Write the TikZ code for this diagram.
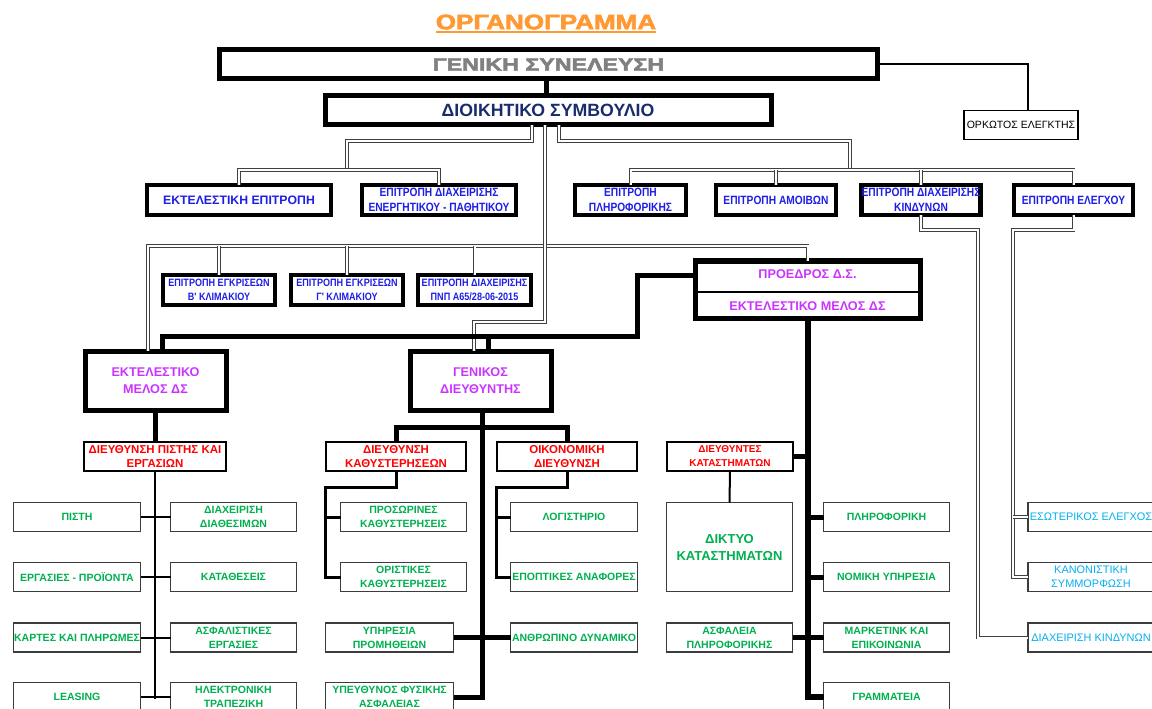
\documentclass[tikz,border=0pt]{standalone}
\usepackage{fontspec}
\usepackage{graphicx}
\setmainfont{Liberation Sans}
\newfontfamily\condf{Liberation Sans}[FakeStretch=0.85]
\newfontfamily\heavyf{Liberation Sans Bold}[FakeBold=2.5]
\usetikzlibrary{calc}
\definecolor{corange}{RGB}{255,153,51}
\definecolor{cgrey}{RGB}{128,128,128}
\definecolor{cnavy}{RGB}{25,45,110}
\definecolor{cblue}{RGB}{30,30,230}
\definecolor{cmag}{RGB}{204,51,255}
\definecolor{cred}{RGB}{255,0,0}
\definecolor{cgreen}{RGB}{0,176,80}
\definecolor{clblue}{RGB}{0,176,240}
\definecolor{cedge}{RGB}{60,60,60}
\tikzset{
  every node/.style={inner sep=0pt, outer sep=0pt, align=center},
  sz/.style 2 args={minimum width=#1*0.75pt, minimum height=#2*0.75pt},
  bigbox/.style={draw, line width=3.75pt},
  combox/.style={draw, line width=3.4pt, text=cblue, font=\condf\fontsize{9}{11.5}\selectfont\bfseries},
  apprbox/.style={draw, line width=3.4pt, text=cblue, font=\condf\fontsize{8}{10.5}\selectfont\bfseries},
  magtext/.style={text=cmag, font=\fontsize{9.5}{12.75}\selectfont\bfseries},
  redbox/.style={draw, line width=1.9pt, text=cred, font=\fontsize{8.6}{10.5}\selectfont\bfseries},
  grbox/.style={draw=cedge, line width=1.1pt, text=cgreen, font=\fontsize{7.9}{10.5}\selectfont\bfseries},
  lbbox/.style={draw=cedge, line width=1.1pt, text=clblue, font=\fontsize{8.2}{10.5}\selectfont},
  dbl/.style={draw=black!75, line width=0.7pt, double=white, double distance=1.5pt},
  thk/.style={line width=3.75pt},
  thkk/.style={line width=4.5pt},
  med/.style={line width=2.25pt},
  thn/.style={line width=1.5pt},
}
\begin{document}
\begin{tikzpicture}[x=0.75pt,y=-0.75pt]
\useasboundingbox (0,0) rectangle (1152,709);
\clip (0,0) rectangle (1152,709);
\fill[white] (0,0) rectangle (1152,709);

% title
\node[text=corange, font=\heavyf\fontsize{15.75}{18}\selectfont] (title) at (546,22) {\scalebox{1.24}[1]{ΟΡΓΑΝΟΓΡΑΜΜΑ}};
\draw[corange, line width=1.6pt] ($(title.south west)+(0,3)$) -- ($(title.south east)+(0,3)$);

% top boxes
\node[bigbox, sz={658}{29}, text=cgrey, font=\heavyf\fontsize{13.6}{15}\selectfont] (gs) at (548.5,64.5) {\scalebox{1.28}[1]{ΓΕΝΙΚΗ ΣΥΝΕΛΕΥΣΗ}};
\node[bigbox, sz={446}{29}, text=cnavy, font=\fontsize{13.3}{15}\selectfont\bfseries] (ds) at (548,110.5) {ΔΙΟΙΚΗΤΙΚΟ ΣΥΜΒΟΥΛΙΟ};
\node[draw, line width=1.4pt, sz={114}{29}, font=\fontsize{7.9}{9.5}\selectfont] (ork) at (1021,125) {ΟΡΚΩΤΟΣ ΕΛΕΓΚΤΗΣ};

% row 1 committees
\node[draw, line width=3.4pt, sz={184}{30}, text=cblue, font=\fontsize{9.2}{11}\selectfont\bfseries] (ekep) at (239,200) {ΕΚΤΕΛΕΣΤΙΚΗ ΕΠΙΤΡΟΠΗ};
\node[combox, sz={154}{30}] (enpa) at (439,200) {ΕΠΙΤΡΟΠΗ ΔΙΑΧΕΙΡΙΣΗΣ\\ΕΝΕΡΓΗΤΙΚΟΥ - ΠΑΘΗΤΙΚΟΥ};
\node[combox, sz={111}{30}] (plir) at (630.5,200) {ΕΠΙΤΡΟΠΗ\\ΠΛΗΡΟΦΟΡΙΚΗΣ};
\node[combox, sz={120}{30}] (amoib) at (776,200) {ΕΠΙΤΡΟΠΗ ΑΜΟΙΒΩΝ};
\node[combox, sz={114}{30}] (kind) at (921,200) {ΕΠΙΤΡΟΠΗ ΔΙΑΧΕΙΡΙΣΗΣ\\ΚΙΝΔΥΝΩΝ};
\node[combox, sz={119}{30}] (eleg) at (1073.5,200) {ΕΠΙΤΡΟΠΗ ΕΛΕΓΧΟΥ};

% row 2 committees
\node[apprbox, sz={112}{30}] (eb) at (219,290) {ΕΠΙΤΡΟΠΗ ΕΓΚΡΙΣΕΩΝ\\Β' ΚΛΙΜΑΚΙΟΥ};
\node[apprbox, sz={112}{30}] (eg) at (347,290) {ΕΠΙΤΡΟΠΗ ΕΓΚΡΙΣΕΩΝ\\Γ' ΚΛΙΜΑΚΙΟΥ};
\node[apprbox, sz={113}{30}] (pnp) at (474.5,290) {ΕΠΙΤΡΟΠΗ ΔΙΑΧΕΙΡΙΣΗΣ\\ΠΝΠ Α65/28-06-2015};

% chairman
\node[bigbox, sz={225}{57}] (pro) at (807.5,289.5) {};
\draw[line width=2.2pt] (pro.west |- 0,292) -- (pro.east |- 0,292);
\node[magtext] (proa) at (807.5,274.5) {ΠΡΟΕΔΡΟΣ Δ.Σ.};
\node[magtext] (prob) at (807.5,306.5) {ΕΚΤΕΛΕΣΤΙΚΟ ΜΕΛΟΣ ΔΣ};

% executive member, general manager
\node[bigbox, sz={141}{59}, magtext] (ekm) at (155.5,380.5) {ΕΚΤΕΛΕΣΤΙΚΟ\\ΜΕΛΟΣ ΔΣ};
\node[bigbox, sz={141}{59}, magtext] (gd) at (480.5,380.5) {ΓΕΝΙΚΟΣ\\ΔΙΕΥΘΥΝΤΗΣ};

% red directorates
\node[redbox, sz={142}{29}] (pist) at (155,456.5) {ΔΙΕΥΘΥΝΣΗ ΠΙΣΤΗΣ ΚΑΙ\\ΕΡΓΑΣΙΩΝ};
\node[redbox, sz={140}{29}] (kath) at (396,456.5) {ΔΙΕΥΘΥΝΣΗ\\ΚΑΘΥΣΤΕΡΗΣΕΩΝ};
\node[redbox, sz={140}{29}] (oik) at (567,456.5) {ΟΙΚΟΝΟΜΙΚΗ\\ΔΙΕΥΘΥΝΣΗ};
\node[redbox, sz={126}{29}, font=\fontsize{7.5}{10.5}\selectfont\bfseries] (diek) at (730,456.5) {ΔΙΕΥΘΥΝΤΕΣ\\ΚΑΤΑΣΤΗΜΑΤΩΝ};

% green units, left
\node[grbox, sz={127}{29}] (pisti) at (77,517) {ΠΙΣΤΗ};
\node[grbox, sz={127}{29}] (ergas) at (77,577) {ΕΡΓΑΣΙΕΣ - ΠΡΟΪΟΝΤΑ};
\node[grbox, sz={127}{29}] (kartes) at (77,637.5) {ΚΑΡΤΕΣ ΚΑΙ ΠΛΗΡΩΜΕΣ};
\node[grbox, sz={127}{29}] (leasing) at (77,697) {LEASING};
\node[grbox, sz={126}{29}] (diax) at (233.5,517) {ΔΙΑΧΕΙΡΙΣΗ\\ΔΙΑΘΕΣΙΜΩΝ};
\node[grbox, sz={126}{29}] (katath) at (233.5,577) {ΚΑΤΑΘΕΣΕΙΣ};
\node[grbox, sz={126}{29}] (asfal) at (233.5,637.5) {ΑΣΦΑΛΙΣΤΙΚΕΣ\\ΕΡΓΑΣΙΕΣ};
\node[grbox, sz={126}{29}] (ilektr) at (233.5,697) {ΗΛΕΚΤΡΟΝΙΚΗ\\ΤΡΑΠΕΖΙΚΗ};

% green units, middle
\node[grbox, sz={126}{29}] (prosor) at (403.5,517) {ΠΡΟΣΩΡΙΝΕΣ\\ΚΑΘΥΣΤΕΡΗΣΕΙΣ};
\node[grbox, sz={126}{29}] (orist) at (403.5,577) {ΟΡΙΣΤΙΚΕΣ\\ΚΑΘΥΣΤΕΡΗΣΕΙΣ};
\node[grbox, sz={128}{29}] (ypir) at (389.5,637.5) {ΥΠΗΡΕΣΙΑ\\ΠΡΟΜΗΘΕΙΩΝ};
\node[grbox, sz={128}{29}] (ypeyth) at (389.5,697) {ΥΠΕΥΘΥΝΟΣ ΦΥΣΙΚΗΣ\\ΑΣΦΑΛΕΙΑΣ};
\node[grbox, sz={127}{29}] (logist) at (574,517) {ΛΟΓΙΣΤΗΡΙΟ};
\node[grbox, sz={127}{29}] (epopt) at (574,577) {ΕΠΟΠΤΙΚΕΣ ΑΝΑΦΟΡΕΣ};
\node[grbox, sz={127}{29}] (anthr) at (574,637.5) {ΑΝΘΡΩΠΙΝΟ ΔΥΝΑΜΙΚΟ};

% green units, right
\node[grbox, sz={126}{89}, font=\fontsize{9.75}{12.75}\selectfont\bfseries] (diktyo) at (729.5,547) {ΔΙΚΤΥΟ\\ΚΑΤΑΣΤΗΜΑΤΩΝ};
\node[grbox, sz={126}{29}] (asfpl) at (729.5,637.5) {ΑΣΦΑΛΕΙΑ\\ΠΛΗΡΟΦΟΡΙΚΗΣ};
\node[grbox, sz={126}{29}] (plirof) at (886.5,517) {ΠΛΗΡΟΦΟΡΙΚΗ};
\node[grbox, sz={126}{29}] (nomiki) at (886.5,577) {ΝΟΜΙΚΗ ΥΠΗΡΕΣΙΑ};
\node[grbox, sz={126}{29}] (market) at (886.5,637.5) {ΜΑΡΚΕΤΙΝΚ ΚΑΙ\\ΕΠΙΚΟΙΝΩΝΙΑ};
\node[grbox, sz={126}{29}] (gramm) at (886.5,697) {ΓΡΑΜΜΑΤΕΙΑ};

% light blue units
\node[lbbox, sz={126}{29}] (esot) at (1091,517) {ΕΣΩΤΕΡΙΚΟΣ ΕΛΕΓΧΟΣ};
\node[lbbox, sz={126}{29}] (kanon) at (1091,577) {ΚΑΝΟΝΙΣΤΙΚΗ\\ΣΥΜΜΟΡΦΩΣΗ};
\node[lbbox, sz={126}{29}] (diaxk) at (1091,637.5) {ΔΙΑΧΕΙΡΙΣΗ ΚΙΝΔΥΝΩΝ};

% ---------- connectors ----------
\draw[thk] (gs.south -| 546,0) -- (ds.north -| 546,0);
\draw[thn] (gs.east) -| ($(ork.north)+(7,0)$);

% DS -> row 1
\draw[dbl] (ds.south -| 532,0) |- (347,141) -- (347,170);
\draw[dbl] (ekep.north) |- (enpa.north |- 0,170) -- (enpa.north);
\draw[dbl] (ds.south -| 559,0) |- (850,141) -- (850,170);
\draw[dbl] (plir.north) |- (eleg.north |- 0,170) -- (eleg.north);
\draw[dbl] (amoib.north) -- (amoib.north |- 0,170);
\draw[dbl] (kind.north) -- (kind.north |- 0,170);

% row 2 and central line
\draw[dbl] (ekm.north -| 148,0) |- (pro.north |- 0,246) -- (pro.north);
\draw[dbl] (eb.north) -- (eb.north |- 0,246);
\draw[dbl] (eg.north) -- (eg.north |- 0,246);
\draw[dbl] (pnp.north) -- (pnp.north |- 0,246);
\draw[dbl] (ds.south -| 545,0) -- (545,322) -| (gd.north -| 474,0);

% chairman -> executive member and general manager
\draw[thk] (pro.west |- 0,275) -- (637,275) |- (162,336) -- (ekm.north -| 162,0);
\draw[thk] (gd.north -| 488,0) -- (488,336);

% executive member column
\draw[thk] (ekm.south -| pist.north) -- (pist.north);
\draw[thn] (pist.south) -- (pist.south |- 0,699);
\draw[thn] (pisti.east) -- (diax.west);
\draw[thn] (ergas.east) -- (katath.west);
\draw[thn] (kartes.east) -- (asfal.west);
\draw[thn] (leasing.east) -- (ilektr.west);

% general manager column
\draw[thk] (gd.south -| 482,0) -- (ypeyth.east -| 482,0) -- (ypeyth.east);
\draw[thk] (kath.north) |- (oik.north |- 0,427) -- (oik.north);
\draw[thk] (ypir.east) -- (anthr.west);
\draw[med] (kath.south) |- (325,487) |- (orist.west);
\draw[med] (prosor.west) -- (prosor.west -| 325,0);
\draw[med] (oik.south) |- (496,487) |- (epopt.west);
\draw[med] (logist.west) -- (logist.west -| 496,0);

% chairman column
\draw[thkk] (pro.south) -- (pro.south |- gramm.west) -- (gramm.west);
\draw[thk] (diek.east) -- (diek.east -| pro.south);
\draw[thk] (plirof.west) -- (plirof.west -| pro.south);
\draw[thk] (nomiki.west) -- (nomiki.west -| pro.south);
\draw[thk] (asfpl.east) -- (market.west);
\draw[thn] (diek.south) -- (diktyo.north);

% audit and risk committees
\draw[dbl] (kind.south) |- (978,230) |- (diaxk.west);
\draw[dbl] (eleg.south) |- (1013,230) |- (kanon.west);
\draw[dbl] (esot.west) -- (esot.west -| 1013,0);
\end{tikzpicture}
\end{document}
